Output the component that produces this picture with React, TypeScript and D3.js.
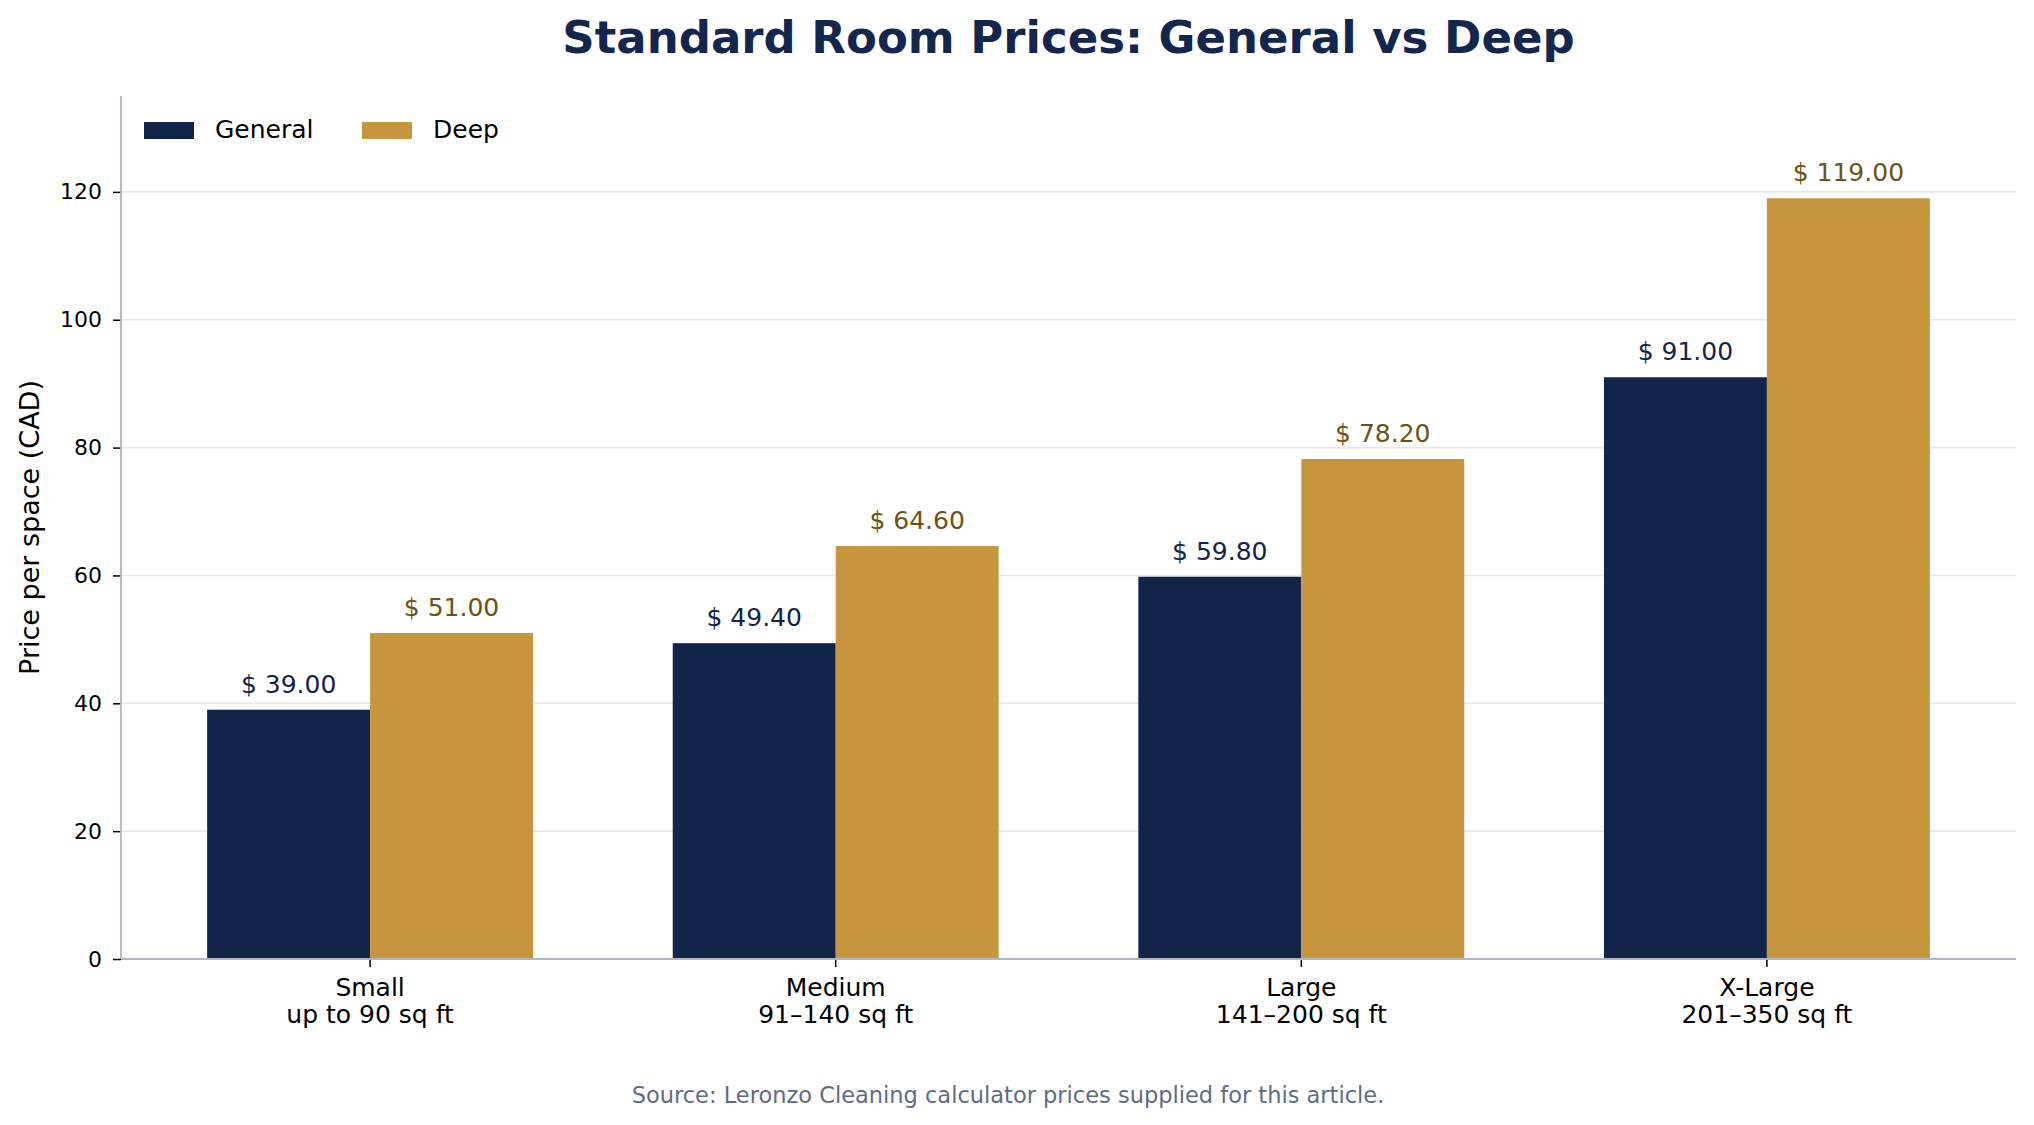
import React, { useRef, useEffect } from 'react';
import * as d3 from 'd3';

const sizes = ['Small', 'Medium', 'Large', 'X-Large'];
const areas = ['up to 90 sq ft', '91–140 sq ft', '141–200 sq ft', '201–350 sq ft'];
const series = ['General', 'Deep'];
const generalPrices = [39.0, 49.4, 59.8, 91.0];
const deepPrices = [51.0, 64.6, 78.2, 119.0];
const yTicks = [0, 20, 40, 60, 80, 100, 120];

const W = 2034;
const H = 1125;
const FONT = '"DejaVu Sans", sans-serif';

const barColors: Record<string, string> = { General: '#12244a', Deep: '#c6953e' };
const labelColors: Record<string, string> = { General: '#12244a', Deep: '#6e5214' };

const App: React.FC = () => {
    const ref = useRef<SVGSVGElement | null>(null);

    useEffect(() => {
        const svg = d3.select(ref.current);
        svg.selectAll('*').remove();

        const margin = { top: 96, right: 18, bottom: 166, left: 121 };
        const x0 = d3.scaleBand<string>()
            .domain(sizes)
            .range([margin.left, W - margin.right])
            .paddingInner(0.3)
            .paddingOuter(0.185);
        const x1 = d3.scaleBand<string>()
            .domain(series)
            .range([0, x0.bandwidth()]);
        const y = d3.scaleLinear()
            .domain([0, 135])
            .range([H - margin.bottom, margin.top]);

        const rows = sizes.map((s, i) => ({
            size: s,
            values: [
                { key: 'General', value: generalPrices[i] },
                { key: 'Deep', value: deepPrices[i] },
            ],
        }));

        // grid
        svg.append('g')
            .selectAll('line')
            .data(yTicks.filter((t) => t > 0))
            .enter()
            .append('line')
            .attr('x1', margin.left)
            .attr('x2', W - margin.right)
            .attr('y1', (d) => y(d))
            .attr('y2', (d) => y(d))
            .attr('stroke', '#e6e7ec')
            .attr('stroke-width', 1.6);

        // bars
        const groups = svg.append('g')
            .selectAll('g')
            .data(rows)
            .enter()
            .append('g')
            .attr('transform', (d) => `translate(${x0(d.size)},0)`);

        groups.selectAll('rect')
            .data((d) => d.values)
            .enter()
            .append('rect')
            .attr('x', (d) => x1(d.key) as number)
            .attr('y', (d) => y(d.value))
            .attr('width', x1.bandwidth())
            .attr('height', (d) => y(0) - y(d.value))
            .attr('fill', (d) => barColors[d.key]);

        groups.selectAll('text')
            .data((d) => d.values)
            .enter()
            .append('text')
            .attr('x', (d) => (x1(d.key) as number) + x1.bandwidth() / 2)
            .attr('y', (d) => y(d.value) - 17)
            .attr('text-anchor', 'middle')
            .style('font-family', FONT)
            .style('font-size', '25px')
            .attr('fill', (d) => labelColors[d.key])
            .text((d) => `$ ${d.value.toFixed(2)}`);

        // y axis
        const yAxis = d3.axisLeft(y)
            .tickValues(yTicks)
            .tickSize(8)
            .tickPadding(11);
        const gy = svg.append('g')
            .attr('transform', `translate(${margin.left},0)`)
            .call(yAxis);
        gy.select('.domain').remove();
        gy.selectAll('.tick line').attr('stroke', '#000').attr('stroke-width', 1.5);
        gy.selectAll('.tick text')
            .style('font-family', FONT)
            .style('font-size', '22px')
            .attr('fill', '#000');

        // x axis, two-line category labels
        const xAxis = d3.axisBottom(x0).tickSize(8).tickFormat(() => '');
        const gx = svg.append('g')
            .attr('transform', `translate(0,${H - margin.bottom})`)
            .call(xAxis);
        gx.select('.domain').remove();
        gx.selectAll('.tick line').attr('stroke', '#000').attr('stroke-width', 1.5);
        gx.selectAll('.tick text').remove();
        gx.selectAll<SVGGElement, string>('.tick')
            .append('text')
            .attr('text-anchor', 'middle')
            .style('font-family', FONT)
            .style('font-size', '25px')
            .attr('fill', '#000')
            .selectAll('tspan')
            .data((d) => [d, areas[sizes.indexOf(d)]])
            .enter()
            .append('tspan')
            .attr('x', 0)
            .attr('y', (_d, i) => 37 + i * 27)
            .text((d) => d);

        // spines
        svg.append('line')
            .attr('x1', margin.left).attr('x2', margin.left)
            .attr('y1', margin.top).attr('y2', H - margin.bottom)
            .attr('stroke', '#b0b5c2').attr('stroke-width', 1.8);
        svg.append('line')
            .attr('x1', margin.left).attr('x2', W - margin.right)
            .attr('y1', H - margin.bottom).attr('y2', H - margin.bottom)
            .attr('stroke', '#b0b5c2').attr('stroke-width', 1.8);

        // y label
        svg.append('text')
            .attr('transform', `translate(39,${(margin.top + H - margin.bottom) / 2}) rotate(-90)`)
            .attr('text-anchor', 'middle')
            .style('font-family', FONT)
            .style('font-size', '27px')
            .attr('fill', '#000')
            .text('Price per space (CAD)');

        // title
        svg.append('text')
            .attr('x', (margin.left + W - margin.right) / 2)
            .attr('y', 53)
            .attr('text-anchor', 'middle')
            .style('font-family', FONT)
            .style('font-size', '45px')
            .style('font-weight', 'bold')
            .attr('fill', '#13264d')
            .text('Standard Room Prices: General vs Deep');

        // legend
        const legendX = [144, 362];
        const legend = svg.append('g')
            .selectAll('g')
            .data(series)
            .enter()
            .append('g')
            .attr('transform', (_d, i) => `translate(${legendX[i]},122)`);
        legend.append('rect')
            .attr('width', 50)
            .attr('height', 17)
            .attr('fill', (d) => barColors[d]);
        legend.append('text')
            .attr('x', 71)
            .attr('y', 16)
            .style('font-family', FONT)
            .style('font-size', '25px')
            .attr('fill', '#000')
            .text((d) => d);

        // footer
        svg.append('text')
            .attr('x', 1008)
            .attr('y', 1103)
            .attr('text-anchor', 'middle')
            .style('font-family', FONT)
            .style('font-size', '22.5px')
            .attr('fill', '#5f6b85')
            .text('Source: Leronzo Cleaning calculator prices supplied for this article.');
    }, []);

    return (
        <svg
            ref={ref}
            width={W}
            height={H}
            style={{ position: 'absolute', left: 0, top: 0, background: '#fff' }}
        />
    );
};

export default App;
